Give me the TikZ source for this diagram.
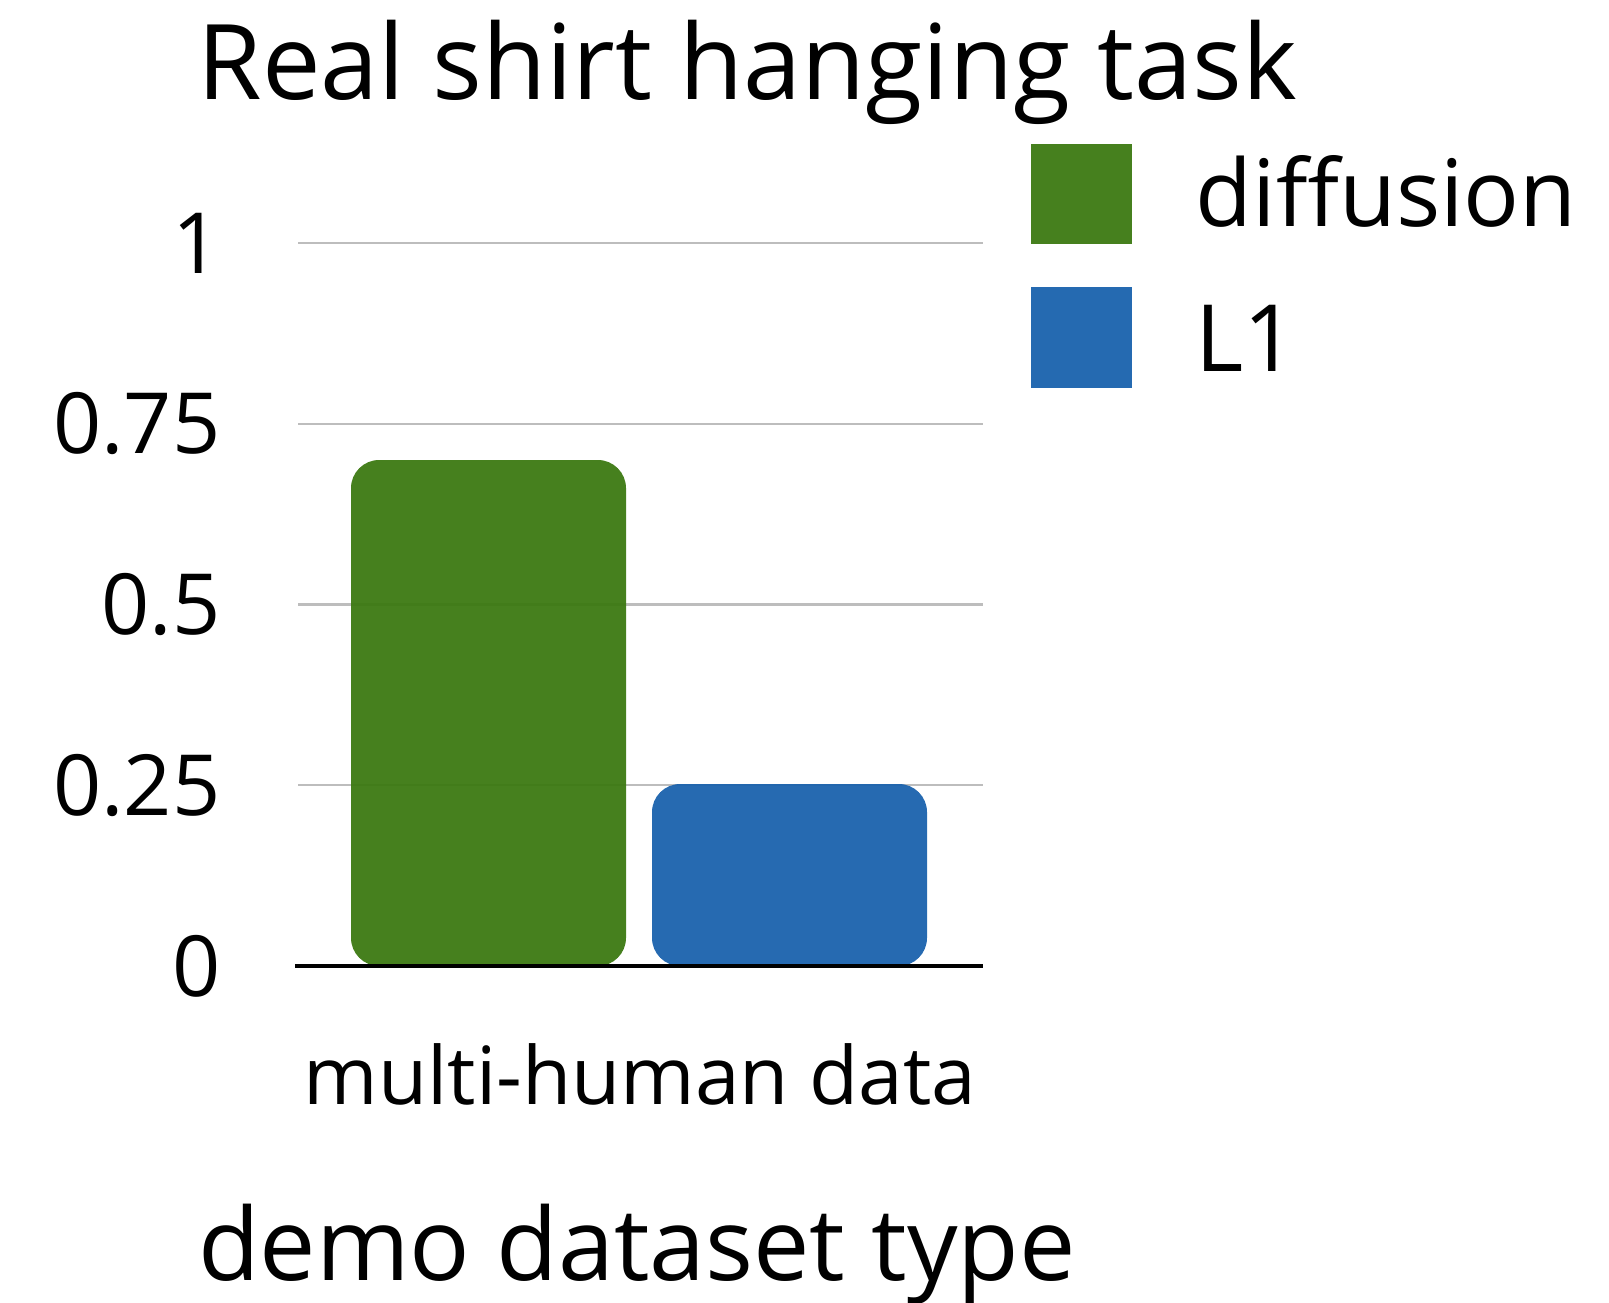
\documentclass[tikz,border=0pt]{standalone}
\usepackage{fontspec}
\setmainfont{Open Sans}
\definecolor{BarDiffusion}{HTML}{3C7912}
\definecolor{BarLOne}{HTML}{1A62AD}
\definecolor{GridGray}{HTML}{BDBDBD}

\begin{document}
\begin{tikzpicture}[x=0.01cm, y=-0.01cm,
    ticklabel/.style={anchor=east, inner sep=0pt, font=\fontsize{24}{28}\selectfont},
    bigtext/.style={inner sep=0pt, font=\fontsize{28}{34}\selectfont},
    bar/.style={rounded corners=8pt, fill opacity=0.95}]
  \useasboundingbox (0,0) rectangle (1609,1303);
  \node[bigtext, anchor=base west, font=\fontsize{29.7}{34}\selectfont] (title) at (197,100) {Real shirt hanging task};
  % help lines
  \foreach \v/\lab in {0.25/0.25, 0.5/0.5, 0.75/0.75, 1/1}
    \draw[GridGray, line width=0.6pt] (298,966-723*\v) -- (983,966-723*\v);
  \foreach \v/\lab in {0/0, 0.25/0.25, 0.5/0.5, 0.75/0.75, 1/1}
    \node[ticklabel] (tick\lab) at (221,966-723*\v) {\lab};
  % Bars
  \fill[bar, BarDiffusion] (351,460) rectangle (626,966);
  \fill[bar, BarLOne] (652,784) rectangle (927,966);
  % Axis
  \draw[black, line width=0.9pt] (295,966) -- (983,966);
  \node[ticklabel, anchor=base, font=\fontsize{22.8}{28}\selectfont] (cat) at (640,1104) {multi-human data};
  \node[bigtext, anchor=base, font=\fontsize{28.6}{34}\selectfont] (xtitle) at (637,1280) {demo dataset type};
  % Legend
  \fill[BarDiffusion!95!white] (1031,144) rectangle (1132,244);
  \fill[BarLOne!95!white] (1031,287) rectangle (1132,388);
  \node[bigtext, anchor=base west, font=\fontsize{26.4}{32}\selectfont] (legdiff) at (1195,226) {diffusion};
  \node[bigtext, anchor=base west, font=\fontsize{26.4}{32}\selectfont] (legl1) at (1195,371) {L1};
\end{tikzpicture}
\end{document}
